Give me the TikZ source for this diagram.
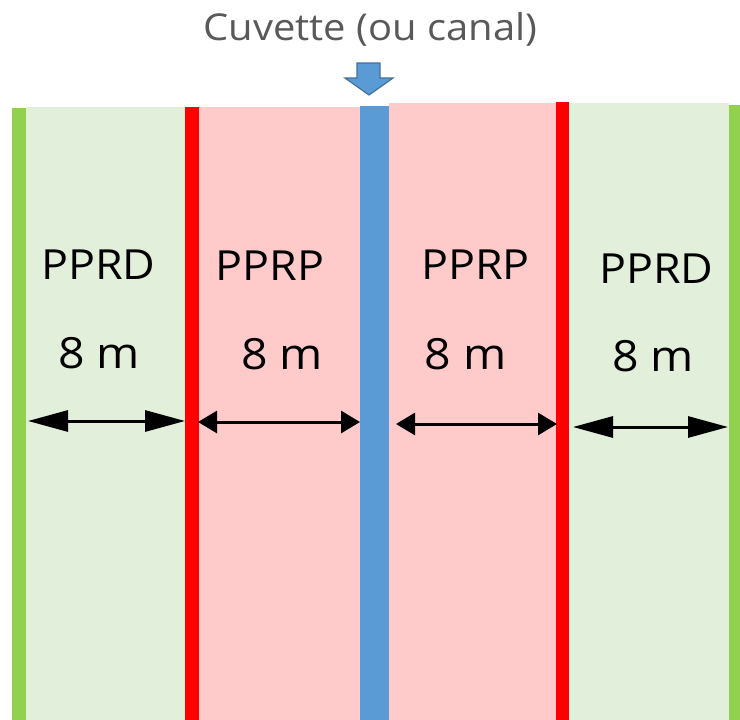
\documentclass[tikz,border=0pt]{standalone}
\usepackage{fontspec}
\setmainfont{Open Sans}[FakeStretch=1.08]
\usetikzlibrary{arrows.meta}
\definecolor{lgreen}{HTML}{E2EFDA}
\definecolor{dgreen}{HTML}{92D050}
\definecolor{pinkz}{HTML}{FFCACA}
\definecolor{redz}{HTML}{FF0000}
\definecolor{bluez}{HTML}{5B9BD5}
\definecolor{bluedark}{HTML}{41719C}
\definecolor{titlegray}{HTML}{595959}
\tikzset{
  zonelabel/.style={anchor=base, inner sep=0pt, font=\fontsize{41.5}{45}\selectfont, text=black},
  distlabel/.style={anchor=base, inner sep=0pt, font=\fontsize{43}{47}\selectfont, text=black},
  bigdim/.style={line width=3pt, {Triangle[length=40pt,width=21pt]}-{Triangle[length=40pt,width=21pt]}},
  smalldim/.style={line width=3pt, {Triangle[length=19pt,width=22pt]}-{Triangle[length=19pt,width=22pt]}}
}
\begin{document}
\begin{tikzpicture}[x=1pt,y=-1pt]
\useasboundingbox (0,0) rectangle (740,720);
\fill[white] (0,0) rectangle (740,720);
% strips
\fill[dgreen] (12,108) rectangle (26,720);
\fill[lgreen] (26,107) rectangle (185,720);
\fill[redz] (185,107) rectangle (199,720);
\fill[pinkz] (199,107) rectangle (360,720);
\fill[bluez] (360,106) rectangle (389,720);
\fill[pinkz] (389,103) rectangle (556,720);
\fill[redz] (556,102) rectangle (569,720);
\fill[lgreen] (569,103) rectangle (729,720);
\fill[dgreen] (729,105) rectangle (740,720);
% title and pointer
\node[anchor=base, inner sep=0pt, text=titlegray, font=\fontsize{37}{40}\selectfont] (title) at (370.5,40.5) {Cuvette (ou canal)};
\draw[fill=bluez, draw=bluedark, line width=1.2pt, line join=miter] (357,63) -- (380,63) -- (380,78) -- (393,78) -- (369,95) -- (345,78) -- (357,78) -- cycle;
% labels
\node[zonelabel] (l1) at (98.5,279.5) {PPRD};
\node[zonelabel] (l2) at (270,280) {PPRP};
\node[zonelabel] (l3) at (475.5,279) {PPRP};
\node[zonelabel] (l4) at (656.5,283) {PPRD};
\node[distlabel] (d1) at (99,368) {8 m};
\node[distlabel] (d2) at (282,369) {8 m};
\node[distlabel] (d3) at (465.5,369) {8 m};
\node[distlabel] (d4) at (653,371) {8 m};
% dimension arrows
\coordinate (a1) at (28,421);  \coordinate (b1) at (185,421);
\coordinate (a2) at (198,422); \coordinate (b2) at (360,422);
\coordinate (a3) at (396,424); \coordinate (b3) at (557,424);
\coordinate (a4) at (573,427); \coordinate (b4) at (728,427);
\draw[bigdim] (a1) -- (b1);
\draw[smalldim] (a2) -- (b2);
\draw[smalldim] (a3) -- (b3);
\draw[bigdim] (a4) -- (b4);
\end{tikzpicture}
\end{document}
